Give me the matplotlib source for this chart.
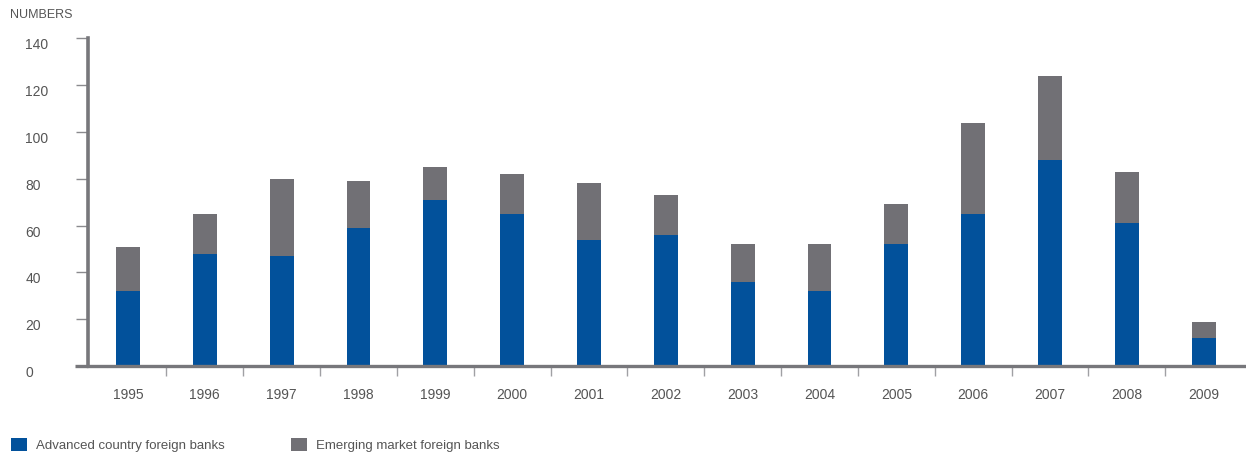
import matplotlib.pyplot as plt
import matplotlib.transforms as mtransforms
import numpy as np

years = ["1995", "1996", "1997", "1998", "1999", "2000", "2001", "2002",
         "2003", "2004", "2005", "2006", "2007", "2008", "2009"]
advanced = [32, 48, 47, 59, 71, 65, 54, 56, 36, 32, 52, 65, 88, 61, 12]
emerging = [19, 17, 33, 20, 14, 17, 24, 17, 16, 20, 17, 39, 36, 22, 7]

blue = "#02519b"
grey = "#717075"
axis_grey = "#77777b"
text_grey = "#555555"

plt.rcParams['font.family'] = ['Liberation Sans', 'DejaVu Sans']

fig = plt.figure(figsize=(12.46, 4.57), dpi=100)
ax = fig.add_axes([88 / 1246, 1 - 366 / 457, 1 - 88 / 1246, (366 - 38.3) / 457])

x = np.arange(len(years))
b1 = ax.bar(x, advanced, width=0.31, color=blue, label="Advanced country foreign banks")
b2 = ax.bar(x, emerging, width=0.31, bottom=advanced, color=grey,
            label="Emerging market foreign banks")

ax.set_xlim(-0.52, 14.55)
ax.set_ylim(0, 140)

for s in ["top", "right"]:
    ax.spines[s].set_visible(False)
ax.spines["left"].set_color(axis_grey)
ax.spines["left"].set_linewidth(2.6)
ax.spines["bottom"].set_color(axis_grey)
ax.spines["bottom"].set_linewidth(2.4)
# baseline carries on to the left past the y axis
ax.plot([-0.69, -0.52], [0, 0], color=axis_grey, lw=2.4, clip_on=False,
        solid_capstyle="butt")

# y axis: outward ticks, labels flush left and sitting a little low
ax.set_yticks(range(0, 141, 20))
ax.tick_params(axis="y", direction="out", length=8.6, width=1.0, color="#8a8a8e",
               labelsize=10, labelcolor=text_grey, pad=36.5)
shift = mtransforms.ScaledTranslation(0, -4 / 72, fig.dpi_scale_trans)
for lab in ax.get_yticklabels():
    lab.set_horizontalalignment("left")
    lab.set_transform(lab.get_transform() + shift)

# x axis: year labels under the bars, tick marks between categories
ax.set_xticks(x)
ax.set_xticklabels(years)
ax.tick_params(axis="x", which="major", length=0, labelsize=10,
               labelcolor=text_grey, pad=15.5)
ax.set_xticks(np.arange(0.5, len(years) - 1, 1), minor=True)
ax.tick_params(axis="x", which="minor", direction="out", length=7.5, width=1.0,
               color="#a0a0a4")

fig.text(10 / 1246, 1 - 15 / 457, "NUMBERS", fontsize=9, color=text_grey,
         ha="left", va="center")

fig.legend(handles=[b1, b2], loc="center left",
           bbox_to_anchor=(11 / 1246, 1 - 445 / 457), ncol=2, frameon=False,
           fontsize=9.5, labelcolor=text_grey, borderpad=0, borderaxespad=0,
           handlelength=1.2, handleheight=1.2, handletextpad=0.7,
           columnspacing=5.0)

fig.savefig("out.png", dpi=100)
